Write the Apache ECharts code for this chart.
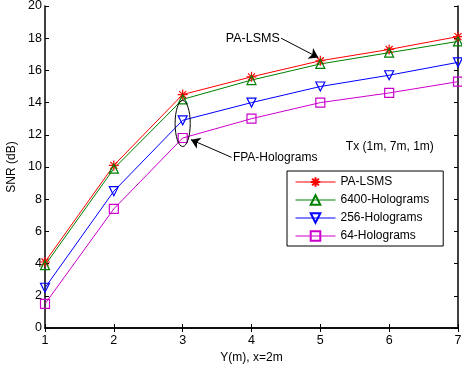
<!DOCTYPE html>
<html>
<head>
<meta charset="utf-8">
<script src="https://cdn.jsdelivr.net/npm/echarts@6/dist/echarts.min.js"></script>
<style>
  html, body {margin: 0; padding: 0; background: #fff;}
  #chart {width: 462px; height: 369px;}
</style>
</head>
<body>
<div id="chart"></div>
<script>
// x positions (m)
var yPos = [1, 2, 3, 4, 5, 6, 7];

var paLsms = [4.1, 10.1, 14.5, 15.6, 16.6, 17.3, 18.1];
var holo6400 = [3.9, 9.9, 14.2, 15.4, 16.4, 17.1, 17.8];
var holo256 = [2.5, 8.5, 12.9, 14.0, 15.0, 15.7, 16.5];
var holo64 = [1.5, 7.4, 11.8, 13.0, 14.0, 14.6, 15.3];

var font = 'Liberation Sans, Arial, sans-serif';
var starPath = 'path://M0,-10L0,10M-10,0L10,0M-7,-7L7,7M-7,7L7,-7';

function pairs(vals) {
  return yPos.map(function (x, i) { return [x, vals[i]]; });
}

function mkSeries(name, vals, color, symbol, rotate) {
  return {
    name: name,
    type: 'line',
    data: pairs(vals),
    symbol: symbol,
    symbolSize: symbol === starPath ? 10 : 9,
    symbolRotate: rotate || 0,
    showAllSymbol: true,
    lineStyle: {color: color, width: 1},
    itemStyle: {color: 'transparent', borderColor: color, borderWidth: 1.2},
    emphasis: {disabled: true},
    z: 3
  };
}

var myChart = echarts.init(document.getElementById('chart'));

var axisCommon = {
  axisLine: {lineStyle: {color: '#000', width: 1.5}},
  axisTick: {inside: true, length: 4, lineStyle: {color: '#000'}},
  splitLine: {show: false},
  axisLabel: {color: '#000', fontSize: 12.5, fontFamily: font}
};

var series = [
  mkSeries('PA-LSMS', paLsms, '#ff0000', starPath),
  mkSeries('6400-Holograms', holo6400, '#008000', 'triangle'),
  mkSeries('256-Holograms', holo256, '#0000ff', 'triangle', 180),
  mkSeries('64-Holograms', holo64, '#cc00cc', 'rect')
];

// annotation arrows in data coordinates
series[0].markLine = {
  silent: true,
  symbol: ['none', 'arrow'],
  symbolSize: 9,
  label: {show: false},
  lineStyle: {color: '#000', width: 1, type: 'solid'},
  data: [
    [{coord: [4.43, 18.0]}, {coord: [4.97, 16.8]}],
    [{coord: [3.71, 10.6]}, {coord: [3.12, 11.7]}]
  ]
};

var option = {
  animation: false,
  backgroundColor: '#fff',
  grid: {left: 45, right: 4, top: 6, bottom: 41, outerBoundsMode: 'none', containLabel: false},
  xAxis: [
    Object.assign({}, axisCommon, {
      type: 'value', min: 1, max: 7, interval: 1,
      name: 'Y(m), x=2m', nameLocation: 'middle', nameGap: 20,
      nameTextStyle: {color: '#000', fontSize: 12, fontFamily: font},
      axisLabel: Object.assign({}, axisCommon.axisLabel, {margin: 6})
    }),
    Object.assign({}, axisCommon, {
      type: 'value', min: 1, max: 7, interval: 1, position: 'top',
      axisLabel: {show: false}
    })
  ],
  yAxis: [
    Object.assign({}, axisCommon, {
      type: 'value', min: 0, max: 20, interval: 2,
      name: 'SNR (dB)', nameLocation: 'middle', nameGap: 26,
      nameTextStyle: {color: '#000', fontSize: 12, fontFamily: font},
      axisLabel: Object.assign({}, axisCommon.axisLabel, {margin: 3})
    }),
    Object.assign({}, axisCommon, {
      type: 'value', min: 0, max: 20, interval: 2, position: 'right',
      axisLabel: {show: false}
    })
  ],
  legend: {
    orient: 'vertical',
    left: 287,
    top: 171,
    itemWidth: 40,
    itemHeight: 12,
    itemGap: 6,
    padding: [5, 14, 4, 8],
    backgroundColor: '#fff',
    borderColor: '#000',
    borderWidth: 1,
    borderRadius: 0,
    lineStyle: {width: 1},
    textStyle: {color: '#000', fontSize: 12, fontFamily: font},
    data: series.map(function (s) { return s.name; })
  },
  series: series
};

myChart.setOption(option);

// text labels and the ellipse, placed from data coordinates
function px(pt) { return myChart.convertToPixel({gridIndex: 0}, pt); }

var c = px([3, 12.7]);
var ex = px([3.11, 12.7])[0] - c[0];
var ey = c[1] - px([3, 14.13])[1];
var pa = px([4.41, 18.0]);
var fpa = px([3.73, 10.6]);
var tx = px([5.37, 11.25]);

myChart.setOption({
  graphic: [
    {type: 'ellipse', shape: {cx: c[0], cy: c[1], rx: ex, ry: ey},
      style: {fill: 'none', stroke: '#000', lineWidth: 1}, z: 10},
    {type: 'text', x: pa[0], y: pa[1],
      style: {text: 'PA-LSMS', fill: '#000', font: '12.5px ' + font, align: 'right', verticalAlign: 'middle'}, z: 10},
    {type: 'text', x: fpa[0], y: fpa[1],
      style: {text: 'FPA-Holograms', fill: '#000', font: '12px ' + font, align: 'left', verticalAlign: 'middle'}, z: 10},
    {type: 'text', x: tx[0], y: tx[1],
      style: {text: 'Tx (1m, 7m, 1m)', fill: '#000', font: '12px ' + font, align: 'left', verticalAlign: 'middle'}, z: 10}
  ]
});
</script>
</body>
</html>
